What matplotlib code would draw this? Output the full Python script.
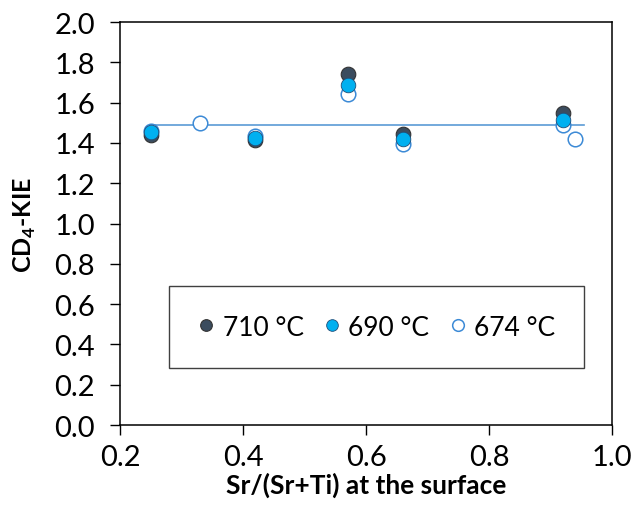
import matplotlib
matplotlib.use("Agg")
import matplotlib.pyplot as plt

# Sr/(Sr+Ti) at the surface vs CD4-KIE for three temperatures
x_710 = [0.25, 0.42, 0.57, 0.66, 0.92]
y_710 = [1.44, 1.415, 1.74, 1.445, 1.55]

x_690 = [0.25, 0.42, 0.57, 0.66, 0.92]
y_690 = [1.455, 1.425, 1.69, 1.42, 1.515]

x_674 = [0.25, 0.33, 0.42, 0.57, 0.66, 0.92, 0.94]
y_674 = [1.46, 1.50, 1.435, 1.645, 1.395, 1.49, 1.42]

# horizontal guide line
line_x = [0.25, 0.955]
line_y = [1.488, 1.488]

plt.rcParams["font.family"] = ["Lato", "DejaVu Sans"]

fig = plt.figure(figsize=(6.33, 5.06), dpi=100)
ax = fig.add_axes([0.1896, 0.158, 0.7773, 0.7964])

MS = 10.5
ax.plot(line_x, line_y, color="#5B9BD5", lw=1.2, zorder=1)
ax.plot(x_674, y_674, "o", ms=MS, mfc="white", mec="#3C8AD6", mew=1.1,
        label="674 °C", zorder=2)
ax.plot(x_710, y_710, "o", ms=MS, mfc="#3B4C5E", mec="#333333", mew=0.8,
        label="710 °C", zorder=3)
ax.plot(x_690, y_690, "o", ms=MS, mfc="#00B0F0", mec="#1F4E79", mew=0.6,
        label="690 °C", zorder=4)

ax.set_xlim(0.2, 1.0)
ax.set_ylim(0.0, 2.0)
ax.set_xticks([0.2, 0.4, 0.6, 0.8, 1.0])
ax.set_yticks([i * 0.2 for i in range(11)])
ax.set_xticklabels(["0.2", "0.4", "0.6", "0.8", "1.0"])
ax.set_yticklabels([f"{i * 0.2:.1f}" for i in range(11)])
ax.tick_params(axis="both", direction="out", length=7, width=1.0,
               labelsize=21, colors="black")
ax.tick_params(axis="y", pad=11)
ax.tick_params(axis="x", pad=7)
for s in ax.spines.values():
    s.set_linewidth(1.1)
    s.set_color("black")

ax.set_xlabel("Sr/(Sr+Ti) at the surface", fontsize=19, fontweight="bold",
              labelpad=1)
ax.set_ylabel("CD$_\\mathregular{4}$-KIE", fontsize=18, fontweight="bold",
              labelpad=12)

handles, labels = ax.get_legend_handles_labels()
order = [1, 2, 0]
leg = ax.legend([handles[i] for i in order], [labels[i] for i in order],
                loc="upper left", bbox_to_anchor=(0.0996, 0.345),
                ncol=3, fontsize=19, markerscale=0.8,
                handlelength=0.65, handletextpad=0.3, columnspacing=0.75,
                borderpad=1.08, borderaxespad=0, fancybox=False,
                framealpha=1, edgecolor="#404040")
leg.get_frame().set_linewidth(1.0)

fig.savefig("out.png", dpi=100)
